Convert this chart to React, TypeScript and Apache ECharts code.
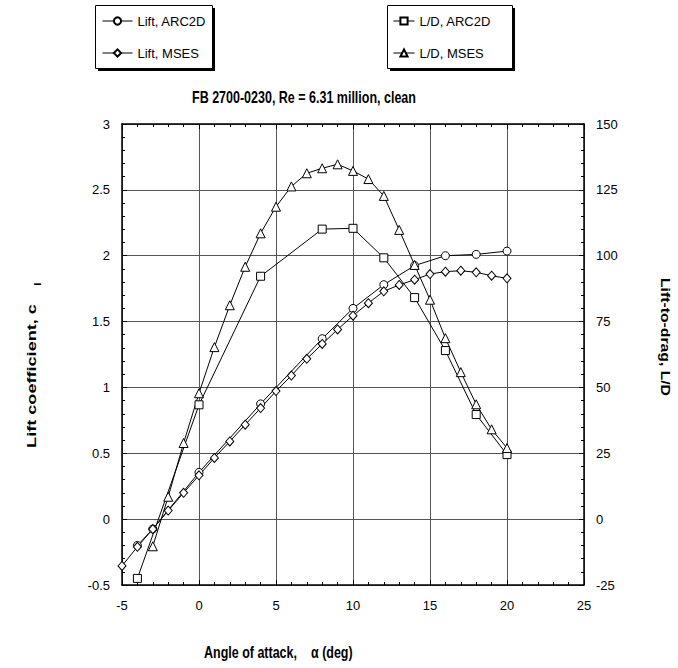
import React, { useEffect, useRef } from "react";
import * as echarts from "echarts";

// ---- Data ----
const alphaLiftArc = [-4, -3, 0, 4, 8, 10, 12, 14, 16, 18, 20];
const liftArc = [-0.2, -0.075, 0.355, 0.875, 1.37, 1.6, 1.78, 1.925, 2.0, 2.01, 2.035];

const alphaLiftMses = [-5, -4, -3, -2, -1, 0, 1, 2, 3, 4, 5, 6, 7, 8, 9, 10, 11, 12, 13, 14, 15, 16, 17, 18, 19, 20];
const liftMses = [-0.355, -0.21, -0.075, 0.065, 0.2, 0.333, 0.465, 0.59, 0.717, 0.843, 0.972, 1.09, 1.217, 1.33, 1.44, 1.545, 1.64, 1.73, 1.778, 1.818, 1.861, 1.879, 1.886, 1.874, 1.848, 1.828];

const alphaLdArc = [-4, 0, 4, 8, 10, 12, 14, 16, 18, 20];
const ldArc = [-22.5, 43.4, 92.2, 110.1, 110.4, 99.2, 84.1, 64.0, 39.7, 24.5];

const alphaLdMses = [-3, -2, -1, 0, 1, 2, 3, 4, 5, 6, 7, 8, 9, 10, 11, 12, 13, 14, 15, 16, 17, 18, 19, 20];
const ldMses = [-10.3, 8.5, 28.9, 47.8, 65.3, 81.2, 95.8, 108.5, 118.6, 126.3, 131.3, 133.2, 134.7, 132.2, 129.1, 122.7, 109.8, 96.5, 83.3, 68.7, 55.8, 43.6, 34.1, 27.0];

const seriesNames = ["Lift, ARC2D", "Lift, MSES", "L/D, ARC2D", "L/D, MSES"];
const titleText = "FB 2700-0230, Re = 6.31 million, clean";
const xTitleA = "Angle of attack,";
const xTitleB = "α (deg)";
const yLeftTitle = "Lift coefficient, c";
const yLeftSub = "l";
const yRightTitle = "Lift-to-drag, L/D";

const FONT = "'Liberation Sans', Arial, Helvetica, sans-serif";

const zip = (xs: number[], ys: number[]) => xs.map((x, i) => [x, ys[i]]);

export default function App() {
  const ref = useRef<HTMLDivElement>(null);
  useEffect(() => {
    if (!ref.current) return;
    const chart = echarts.init(ref.current, undefined, { renderer: "svg" });

    const axisLine = { show: true, onZero: false, lineStyle: { color: "#000", width: 1.5 } };
    const axisTick = { show: true, inside: true, length: 5, lineStyle: { color: "#000", width: 1 } };
    const minorTick = { show: true, splitNumber: 5, length: 3, lineStyle: { color: "#000", width: 1 } };
    const labelStyle = { color: "#000", fontSize: 13, fontFamily: FONT };

    const mk = (name: string, data: number[][], symbol: string, size: any, yIdx: number) => ({
      name,
      type: "line",
      xAxisIndex: 0,
      yAxisIndex: yIdx,
      data,
      symbol,
      symbolSize: size,
      showAllSymbol: true,
      lineStyle: { color: "#000", width: 1 },
      itemStyle: { color: "#fff", borderColor: "#000", borderWidth: 1 },
      emphasis: { disabled: true },
      z: 3,
    });

    const legendCommon = {
      orient: "vertical",
      top: 5,
      itemHeight: 9,
      itemGap: 19,
      textStyle: { color: "#000", fontSize: 13, fontFamily: FONT },
      lineStyle: { width: 1 },
      selectedMode: false,
      z: 5,
    };

    const box = (x: number, y: number, w: number, h: number) => [
      { type: "rect", z: 1, x: x + 3, y: y + 3, shape: { x: 0, y: 0, width: w, height: h }, style: { fill: "#000" } },
      { type: "rect", z: 2, x: x + 0.5, y: y + 0.5, shape: { x: 0, y: 0, width: w, height: h }, style: { fill: "#fff", stroke: "#000", lineWidth: 1 } },
    ];

    chart.setOption({
      animation: false,
      backgroundColor: "#fff",
      textStyle: { fontFamily: FONT },
      grid: { left: 122, right: 94, top: 124, bottom: 83, containLabel: false },
      legend: [
        {
          ...legendCommon,
          data: ["Lift, ARC2D", "Lift, MSES"],
          left: 95,
          padding: [9.5, 6, 8, 7],
          itemWidth: 30,
        },
        {
          ...legendCommon,
          data: ["L/D, ARC2D", "L/D, MSES"],
          left: 387,
          padding: [9.5, 6, 8, 6],
          itemWidth: 21,
        },
      ],
      xAxis: [
        {
          type: "value",
          min: -5,
          max: 25,
          interval: 5,
          position: "bottom",
          axisLine,
          axisTick,
          minorTick,
          axisLabel: { ...labelStyle, margin: 14 },
          splitLine: { show: true, lineStyle: { color: "#555", width: 1 } },
        },
        {
          type: "value",
          min: -5,
          max: 25,
          interval: 5,
          position: "top",
          axisLine,
          axisTick,
          minorTick,
          axisLabel: { show: false },
          splitLine: { show: false },
        },
      ],
      yAxis: [
        {
          type: "value",
          min: -0.5,
          max: 3,
          interval: 0.5,
          position: "left",
          axisLine,
          axisTick,
          minorTick,
          axisLabel: { ...labelStyle, margin: 12 },
          splitLine: { show: true, lineStyle: { color: "#555", width: 1 } },
        },
        {
          type: "value",
          min: -25,
          max: 150,
          interval: 25,
          position: "right",
          axisLine,
          axisTick,
          minorTick,
          axisLabel: { ...labelStyle, margin: 12 },
          splitLine: { show: false },
        },
      ],
      series: [
        mk(seriesNames[0], zip(alphaLiftArc, liftArc), "circle", 8, 0),
        mk(seriesNames[1], zip(alphaLiftMses, liftMses), "diamond", [8, 9], 0),
        mk(seriesNames[2], zip(alphaLdArc, ldArc), "rect", 8, 1),
        mk(seriesNames[3], zip(alphaLdMses, ldMses), "triangle", 9, 1),
      ],
      graphic: [
        ...box(95, 5, 117, 63),
        ...box(387, 5, 125, 63),
        {
          type: "text", z: 10, x: 304, y: 97, scaleY: 1.3,
          style: { text: titleText, fill: "#000", font: `bold 12.5px ${FONT}`, textAlign: "center", textVerticalAlign: "middle" },
        },
        {
          type: "text", z: 10, x: 204, y: 652, scaleY: 1.25,
          style: { text: xTitleA, fill: "#000", font: `bold 12.5px ${FONT}`, textAlign: "left", textVerticalAlign: "middle" },
        },
        {
          type: "text", z: 10, x: 311, y: 652, scaleY: 1.25,
          style: { text: xTitleB, fill: "#000", font: `bold 12.5px ${FONT}`, textAlign: "left", textVerticalAlign: "middle" },
        },
        {
          type: "text", z: 10, x: 32, y: 376, rotation: Math.PI / 2, scaleX: 1.45,
          style: { text: yLeftTitle, fill: "#000", font: `bold 12.5px ${FONT}`, textAlign: "center", textVerticalAlign: "middle" },
        },
        {
          type: "text", z: 10, x: 38, y: 284, rotation: Math.PI / 2, scaleX: 1.3,
          style: { text: yLeftSub, fill: "#000", font: `bold 9px ${FONT}`, textAlign: "center", textVerticalAlign: "middle" },
        },
        {
          type: "text", z: 10, x: 665, y: 337, rotation: -Math.PI / 2, scaleX: 1.26,
          style: { text: yRightTitle, fill: "#000", font: `bold 12.5px ${FONT}`, textAlign: "center", textVerticalAlign: "middle" },
        },
      ],
    });
    return () => chart.dispose();
  }, []);
  return <div ref={ref} style={{ position: "absolute", left: 0, top: 0, width: 678, height: 668 }} />;
}
